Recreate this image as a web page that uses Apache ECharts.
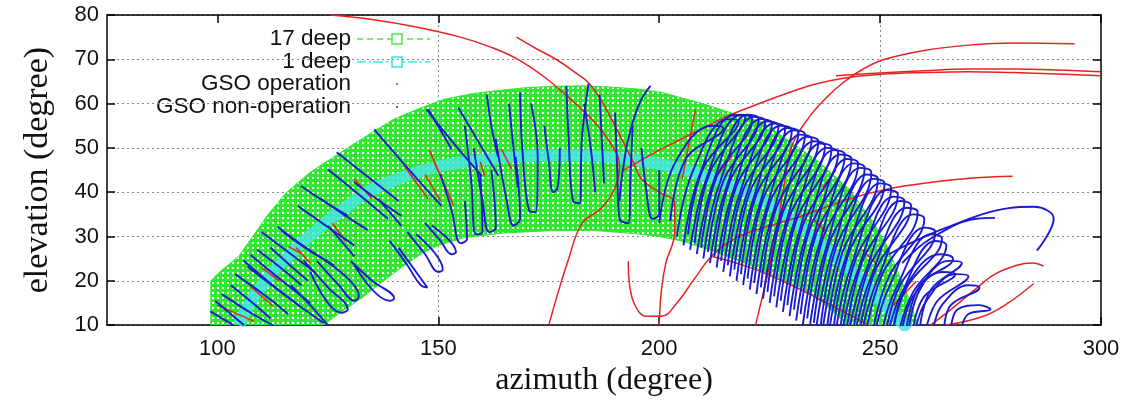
<!DOCTYPE html>
<html>
<head>
<meta charset="utf-8">
<script src="https://cdn.jsdelivr.net/npm/echarts@6/dist/echarts.min.js"></script>
<style>
  html, body { margin: 0; padding: 0; background: #fff; }
  #chart { width: 1128px; height: 402px; }
</style>
</head>
<body>
<div id="chart"></div>
<script>
// ticks
const azTicks = [100, 150, 200, 250, 300]
const elTicks = [10, 20, 30, 40, 50, 60, 70, 80]
const legendNames = ['17 deep', '1 deep', 'GSO operation', 'GSO non-operation']

// 17 deep: outer and inner edge of the band of squares (azimuth, elevation)
const outerEdge = [[98.5,10],[98.5,20],[100.5,22],[104.8,25.5],[108,30],[111.4,34.9],[115.5,39.8],[121,44.5],[129.5,50],[135,53.5],[140,56.5],[146,59],[151.4,61],[158,62.3],[164,63],[170,63.6],[176,63.9],[182,64],[188,63.8],[195,63.3],[200.7,62.5],[205,61.3],[209.8,60],[216,58],[223.4,55.8],[229.8,51.3],[236,47],[243,40.7],[248.4,33.3],[251.5,28],[254,22],[256.5,16],[258.5,10]]
const innerEdge = [[124,10],[128,13],[132.5,16],[137,19.5],[141.6,23],[146,26],[150,28],[156,29.8],[165,30.8],[175,31.3],[185,31.4],[195,30.6],[200,30],[205,29],[212,26.8],[220,23.8],[226,21],[232.5,18.3],[237,15],[240,12.5],[242.5,10]]

// 1 deep: centre arc
const deep1Arc = [[104.8,10],[106,12.5],[108,16],[110.5,19.5],[113,22.5],[116,25.5],[119,28.5],[122,31],[125.5,34],[129,36.5],[133,39.5],[137,41.5],[141,43],[145,44.5],[150,45.8],[155,46.7],[160,47.3],[165,47.8],[170,48.1],[175,48.3],[180,48.3],[185,48.2],[190,47.8],[195,47.2],[200,46.3],[205,45.3],[210,43.8],[215,42],[220,39.8],[225,37.2],[230,33.8],[235,29.6],[238.5,26.7],[242,23.5],[246,20],[249,16.8],[252,13.5],[254.5,11],[256.5,9]]

// GSO operation tracks (red)
const redTracks = [
  [[125.5,80],[135,79],[145,77.3],[155,75],[162,72.7],[168,70],[174,66],[179,61.8],[184.8,56.4],[189,51],[191,46],[190,41],[187,36.5],[182.5,32.9],[179.5,25],[177,17],[175,10]],
  [[167.7,75],[172,72.5],[176.8,69.9],[181,67],[184,64.7],[187,60.5],[191,53],[194,47],[196,43],[200,40],[203.5,37.5],[203.5,31],[201.5,24],[200.5,18],[200,10]],
  [[193,24.4],[193.3,19],[194.5,14.5],[197,12],[200.5,12],[204,15],[208,20.5],[212,25.7],[217,29.5],[222,31.5],[232.5,34.7],[243,38.5],[252,40.8],[262,42.3],[271,43.2],[280,43.6]],
  [[192,45],[195.5,47],[200,49.5],[205,52],[210,54.5],[215,57],[220,59],[228,62],[235,64.3],[242,65.8],[250,66.6],[260,67],[270,67.2],[280,67],[290,66.7],[300,66.3]],
  [[221.8,10],[223.5,17],[225,23.5],[226.5,31],[228,40],[230,50.4],[234,57],[238,61.5],[241.6,64.7],[246,67.7],[250.7,69.9],[260,72],[270,73.2],[280,73.7],[294,73.5]],
  [[240,66.3],[250,66.9],[260,67.4],[270,67.8],[280,67.8],[290,67.6],[300,67.2]],
  [[261.4,10],[266,13.5],[271.8,18.3],[276,21.5],[281,23.5],[284.5,24],[287,23.3]],
  [[265,10],[273.4,12],[279,15],[284.8,19.4]],
  [[212,25.5],[220,23.2],[228,19.9],[237,15.5],[245.5,11],[248,9.5]],
  [[100,14.5],[108.2,10.9]],
  [[107.5,18.7],[112.5,14.3]],
  [[110,23],[114,20]],
  [[116.1,27.7],[118.9,26.2]],
  [[117.8,27.5],[121,24]],
  [[126,33],[129,29]],
  [[131,43],[135,38.5]],
  [[142.3,45.9],[147.7,38.5]],
  [[148,49.5],[152,40]],
  [[149,47],[153.5,37]],
  [[147,44],[150.5,38]],
  [[159.5,46.8],[160.5,43.7]],
  [[164.3,49.7],[166.6,45.2]],
  [[208.2,58.7],[205.2,43]],
  [[216.5,48.2],[212.5,43]],
  [[234.8,34],[237.7,31.1]],
  [[240,45],[237,41]],
  [[246,27],[249,24]],
  [[258.2,19.9],[253,14.5]]
]

// GSO non-operation tracks (blue)
const blueTracks = [
  [[98.4,13.1],[103.6,10]],
  [[99.5,15.5],[103,12.5],[106,10]],
  [[101,17],[108,12.5],[112.5,10]],
  [[104,21.5],[111,16.5],[116,12.5]],
  [[109,27],[115.5,22],[119,19]],
  [[105.9,24.6],[115,17],[124.1,10.4]],
  [[106.8,23.2],[113,18.5],[118.6,14.3]],
  [[107.5,25.8],[114,20.5],[121,15]],
  [[103,19],[108,15],[112,11.5]],
  [[113.6,32.2],[120,27.5],[126.4,23.5],[120.5,27],[114.5,31.3]],
  [[118.2,36.9],[124.5,32.5],[131,28]],
  [[123.4,38.5],[128.5,35],[134,31.5]],
  [[118.9,41.4],[124,38],[129.5,34.7]],
  [[119.5,24.6],[125,18.5],[129.5,13.5],[128,12.8],[121,22]],
  [[122.5,24.5],[127.5,19],[131,15.5],[132,16.5],[124.5,24.5]],
  [[116.6,19],[121,14.5],[125,10]],
  [[125,32.4],[128,29],[131,25.5]],
  [[130.2,24.4],[135,20],[140,16],[139,15.5],[131,23.5]],
  [[136.4,38.5],[139,35.5],[141.6,32.4]],
  [[125,45.2],[132,39.5],[138.6,34]],
  [[135.5,54.2],[143,45.5],[150.7,36.9]],
  [[130.9,42.3],[136,38.5],[141.6,34.7]],
  [[147.7,58.7],[150.5,54],[153,49.7]],
  [[139,29],[143,23.5],[146,19],[147.5,18.5],[141,27.5]],
  [[143,31],[147,26],[150,22],[151,22.5],[145,30.5]],
  [[147,33],[150.5,29],[153,26],[154,26.5],[148.5,32.5]],
  [[110,31],[116,26.5],[122,22]],
  [[127,49],[134,43.5],[141,38]],
  [[112,27.5],[117,23],[120.5,20]],
  [[147.3,58.7],[153.5,51],[159.8,43.7]],
  [[154.5,59.1],[159,51.5],[163.6,43.7]],
  [[150.5,44],[153,36],[155,28.5],[156.5,29.5],[156,38]],
  [[156,55],[157.5,42],[158.5,30.5],[160,31],[159.5,44]],
  [[158,50],[160,38],[161.5,31],[163,32],[162,45]],
  [[163,52],[165.5,38],[167,32.5],[168.5,34],[167.5,48]],
  [[168.5,62.5],[169,50],[170.5,36],[172,35.5],[172.5,48],[171,60]],
  [[166,60],[167,50],[168,41]],
  [[174,55],[175,47],[176,40],[177,41],[177.5,50]],
  [[179,64],[179.5,52],[180.5,38],[182,37.5],[182.5,52],[184,64.5]],
  [[183,60],[184.5,50],[185.5,40]],
  [[186.5,62],[187,52],[187.5,42]],
  [[190,58],[190.5,45],[191,34],[193,33],[193.5,44],[194,55]],
  [[198,64],[195.5,60],[193,52],[191.5,43],[191,38]],
  [[161,62],[162,55],[163.5,48]],
  [[196,50],[197,41],[198.5,34],[200,35],[200,45]],
  [[200,33],[203.5,46.5],[212,55],[214.5,54.5],[206,47.5],[202.5,33.5]],
  [[204,30],[207.5,44.5],[215.5,56.5],[218,56],[210,45.5],[206.5,30.5]],
  [[205.5,28],[209,43.5],[217,57.5],[219.5,57],[211.5,44.5],[208,28.5]],
  [[207,27],[210.5,42.5],[218.5,57.5],[221,56.5],[213,43.5],[209.5,27.5]],
  [[208.5,26],[212,41.5],[220,57.5],[222.5,56.5],[214.5,42.5],[211,26.5]],
  [[210,25],[213.5,41.5],[221.5,57],[224,56],[216,42.5],[212.5,25.5]],
  [[211.5,24],[215,40.5],[223,56.5],[225.5,55.5],[217.5,41.5],[214,24.5]],
  [[213,23],[216.5,39.5],[224.5,56],[227,55],[219,40.5],[215.5,23.5]],
  [[214.5,22],[218,39],[226,55.5],[228.5,54.5],[220.5,40],[217,22.5]],
  [[216,21],[219.5,38.5],[227.5,55],[230,54],[222,39.5],[218.5,21.5]],
  [[217.5,20],[221,37.5],[229,54.5],[231.5,53.5],[223.5,38.5],[220,20.5]],
  [[219,19],[222.5,36.5],[230.5,54],[233,53],[225,37.5],[221.5,19.5]],
  [[220.5,18],[224,35.5],[232,53],[234.5,52],[226.5,36.5],[223,18.5]],
  [[222,17],[225.5,34.5],[233.5,52.5],[236,51.5],[228,35.5],[224.5,17.5]],
  [[223.5,16],[227,33.5],[235,51.5],[237.5,50.5],[229.5,34.5],[226,16.5]],
  [[225,15],[228.5,32.5],[236.5,51],[239,50],[231,33.5],[227.5,15.5]],
  [[226.5,14],[230,31.5],[238,50],[240.5,49],[232.5,32.5],[229,14.5]],
  [[228,13],[231.5,30.5],[239.5,49.5],[242,48.5],[234,31.5],[230.5,13.5]],
  [[229.5,12],[233,29.5],[241,48.5],[243.5,47.5],[235.5,30.5],[232,12.5]],
  [[231,11],[234.5,28.5],[242.5,47.5],[245,46.5],[237,29.5],[233.5,11.5]],
  [[232.5,10],[236,27.5],[244,46.5],[246.5,45.5],[238.5,28.5],[235,10.5]],
  [[234,9],[237.5,26.5],[245.5,45.5],[248,44.5],[240,27.5],[236.5,9.5]],
  [[235.5,9],[239,26],[247,44],[249.5,43],[241.5,26.5],[238,9.5]],
  [[237,9],[240.5,25.5],[248.5,43],[251,42],[243,26.5],[239.5,9.5]],
  [[238.5,9],[242,24.5],[250,42],[252.5,41],[244.5,25],[241,9.5]],
  [[240,9],[243.5,23.5],[251.5,40.5],[254,39.5],[246,24.5],[242.5,9.5]],
  [[241.5,9],[245,22.5],[253,39],[255.5,38],[247.5,23],[244,9.5]],
  [[243,9],[246.5,21.5],[254.5,38],[257,37],[249,22.5],[245.5,9.5]],
  [[244.5,9],[248,21],[256,36.5],[258.5,35.5],[250.5,21.5],[247,9.5]],
  [[246,9],[249.5,20.5],[257.5,35],[260,34],[252,21],[248.5,9.5]],
  [[249,9],[252,18.5],[260,32],[262.5,31],[254.5,19],[251.5,9.5]],
  [[250.5,9],[253.5,18],[261.5,30.5],[264,29.5],[256,18.5],[253,9.5]],
  [[252,9],[255,17.5],[262.5,29],[265,28],[257.5,17.5],[254.5,9.5]],
  [[253,9],[256,19],[263.5,26],[266.5,25],[259,19],[256,9.5]],
  [[255,9],[257.5,16.5],[264,22],[267,21.5],[260,16.5],[257.5,9.5]],
  [[256.5,9],[259,18],[265.5,24.5],[268.5,24],[261.5,18],[259,9.5]],
  [[258,9],[260.5,15.5],[267,21.5],[270,21],[263,15.5],[260.5,9.5]],
  [[262,9],[264,14.5],[270,19],[272.5,18.5],[266,14.5],[264.5,9.5]],
  [[266,9],[267.5,13.5],[272.5,14.5],[275,13.5],[270,12.5],[268.5,9.5]],
  [[255,24],[261.4,29.5],[273.4,35.1],[284.8,36.7],[289.3,34],[285.5,26.8]],
  [[252,26],[258.2,29.1],[265,32],[271.8,34],[276,34.2]]
]

const GREEN = '#2fe82f'
const CYAN = '#45e4de'
const RED = '#e82222'
const BLUE = '#1b1bd0'

// texture for the band of overlapping hollow squares
const tile = document.createElement('canvas')
tile.width = 5
tile.height = 5
const tctx = tile.getContext('2d')
tctx.fillStyle = GREEN
tctx.fillRect(0, 0, 5, 5)
tctx.fillStyle = '#ffffff'
tctx.fillRect(2, 2, 2, 2)

const chart = echarts.init(document.getElementById('chart'), null, { renderer: 'canvas' })

const axisLine = { show: true, onZero: false, lineStyle: { color: '#000', width: 1.5 } }
const tickStyle = { color: '#000', width: 1.5 }
const gridLine = { color: '#8a8a8a', type: [2, 3], width: 1 }

const trackSeries = (tracks, name, color, width) => tracks.map((t) => ({
  type: 'line',
  name,
  data: t,
  symbol: 'none',
  smooth: 0.4,
  clip: true,
  silent: true,
  animation: false,
  lineStyle: { color, width },
}))

// legend drawn as text + samples, right aligned like gnuplot
const legendY = [40, 63, 85, 108]
const legendGraphics = []
legendNames.forEach((n, i) => {
  legendGraphics.push({
    type: 'text', right: 1128 - 351, top: legendY[i] - 13,
    style: { text: n, fill: '#111', font: '22.5px "Liberation Sans", Arial, sans-serif', textAlign: 'right' },
  })
})
legendGraphics.push(
  { type: 'line', shape: { x1: 357, y1: 39, x2: 430, y2: 39 }, style: { stroke: '#44ee44', lineWidth: 1.5, lineDash: [6, 4] } },
  { type: 'rect', shape: { x: 392, y: 34, width: 10, height: 10 }, style: { stroke: '#44ee44', fill: '#fff', lineWidth: 1.5 } },
  { type: 'line', shape: { x1: 357, y1: 62, x2: 430, y2: 62 }, style: { stroke: '#33e6e6', lineWidth: 1.5, lineDash: [9, 3, 2, 3] } },
  { type: 'rect', shape: { x: 392, y: 57, width: 10, height: 10 }, style: { stroke: '#33e6e6', fill: '#fff', lineWidth: 1.5 } },
  { type: 'circle', shape: { cx: 397, cy: 84, r: 1 }, style: { fill: RED } },
  { type: 'circle', shape: { cx: 397, cy: 107, r: 1 }, style: { fill: BLUE } },
)

const option = {
  animation: false,
  backgroundColor: '#fff',
  grid: { left: 107, right: 27, top: 15, bottom: 75 },
  xAxis: [
    {
      type: 'value', position: 'bottom', min: 75, max: 300, interval: 25,
      axisLine,
      axisTick: { show: true, inside: true, length: 8, customValues: azTicks, lineStyle: tickStyle },
      axisLabel: { customValues: azTicks, fontSize: 22, color: '#111', margin: 13, fontFamily: 'Liberation Sans' },
      splitLine: { show: true, lineStyle: { ...gridLine, color: ['rgba(0,0,0,0)', '#8a8a8a'] } },
      name: 'azimuth (degree)', nameLocation: 'middle', nameGap: 29,
      nameTextStyle: { fontFamily: 'Liberation Serif', fontSize: 32, color: '#111' },
    },
    {
      type: 'value', position: 'top', min: 75, max: 300, interval: 25,
      axisLine,
      axisTick: { show: true, inside: true, length: 8, customValues: azTicks, lineStyle: tickStyle },
      axisLabel: { show: false },
      splitLine: { show: false },
    },
  ],
  yAxis: [
    {
      type: 'value', position: 'left', min: 10, max: 80, interval: 10,
      axisLine,
      axisTick: { show: true, inside: true, length: 8, customValues: elTicks, lineStyle: tickStyle },
      axisLabel: { fontSize: 22, color: '#111', margin: 8, fontFamily: 'Liberation Sans' },
      splitLine: { show: true, lineStyle: gridLine },
      name: 'elevation (degree)', nameLocation: 'middle', nameGap: 52, nameRotate: 90,
      nameTextStyle: { fontFamily: 'Liberation Serif', fontSize: 34, color: '#111' },
    },
    {
      type: 'value', position: 'right', min: 10, max: 80, interval: 10,
      axisLine,
      axisTick: { show: true, inside: true, length: 8, lineStyle: tickStyle },
      axisLabel: { show: false },
      splitLine: { show: false },
    },
  ],
  graphic: legendGraphics,
  series: [
    {
      type: 'custom',
      name: legendNames[0],
      coordinateSystem: 'cartesian2d',
      clip: true,
      silent: true,
      data: [[180, 45]],
      renderItem: (params, api) => {
        const pts = outerEdge.map((p) => api.coord(p))
          .concat(innerEdge.slice().reverse().map((p) => api.coord(p)))
        return {
          type: 'polygon',
          shape: { points: pts },
          style: { fill: { image: tile, repeat: 'repeat' }, stroke: GREEN, lineWidth: 1 },
        }
      },
    },
    {
      type: 'line',
      name: legendNames[1],
      data: deep1Arc,
      symbol: 'none',
      smooth: 0.3,
      clip: true,
      silent: true,
      lineStyle: { color: CYAN, width: 12, opacity: 0.85 },
    },
    ...trackSeries(redTracks, legendNames[2], RED, 1.5),
    ...trackSeries(blueTracks, legendNames[3], BLUE, 1.9),
  ],
}

chart.setOption(option)
</script>
</body>
</html>
